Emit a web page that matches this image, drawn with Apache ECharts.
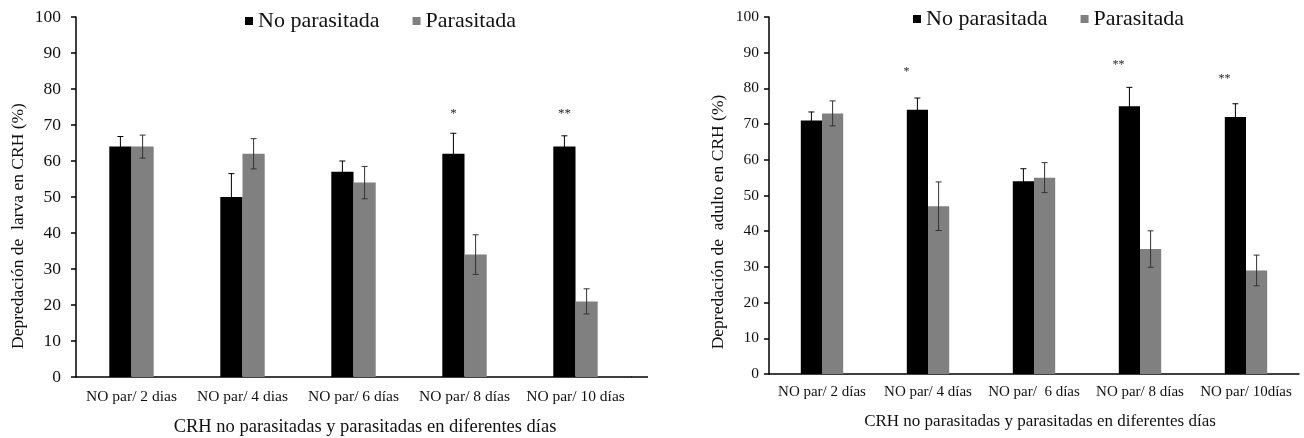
<!DOCTYPE html>
<html>
<head>
<meta charset="utf-8">
<script src="https://cdn.jsdelivr.net/npm/echarts@6/dist/echarts.min.js"></script>
<style>
html,body{margin:0;padding:0;background:#fff;}
#chart{width:1304px;height:438px;}
</style>
</head>
<body>
<div id="chart"></div>
<script>
// ---------- DATA ----------
const categoriesLarva = ['NO par/ 2 dias', 'NO par/ 4 dias', 'NO par/ 6 días', 'NO par/ 8 días', 'NO par/ 10 días'];
const categoriesAdulto = ['NO par/ 2 días', 'NO par/ 4 días', 'NO par/  6 días', 'NO par/ 8 días', 'NO par/ 10días'];
const seriesNames = ['No parasitada', 'Parasitada'];

const larvaNoPar = [64, 50, 57, 62, 64];
const larvaNoParErr = [2.8, 6.5, 3.0, 5.7, 3.0];
const larvaPar = [64, 62, 54, 34, 21];
const larvaParErr = [3.2, 4.2, 4.5, 5.5, 3.5];
const larvaStars = ['', '', '', '*', '**'];
const larvaStarLevel = [0, 0, 0, 73.3, 73.3];

const adultoNoPar = [71, 74, 54, 75, 72];
const adultoNoParErr = [2.4, 3.3, 3.5, 5.3, 3.7];
const adultoPar = [73, 47, 55, 35, 29];
const adultoParErr = [3.5, 6.8, 4.2, 5.1, 4.3];
const adultoStars = ['', '*', '', '**', '**'];
const adultoStarLevel = [0, 84.6, 0, 86.7, 82.6];

const yTicks = [0, 10, 20, 30, 40, 50, 60, 70, 80, 90, 100];

const yNameLarva = 'Depredación de  larva en CRH (%)';
const yNameAdulto = 'Depredación de  adulto en CRH (%)';
const xName = 'CRH no parasitadas y parasitadas en diferentes días';

// ---------- CHART ----------
const FONT = "'Liberation Serif', 'Times New Roman', serif";
const BLACK = '#000000';
const GREY = '#808080';

function errData(vals, errs) { return vals.map((v, i) => [i, v, errs[i]]); }
function starData(lv, st) { return lv.map((v, i) => [i, v, st[i]]).filter(d => d[2] !== ''); }

function errorSeries(name, gridIdx, vals, errs, shift, color) {
  return {
    type: 'custom', name: name, xAxisIndex: gridIdx, yAxisIndex: gridIdx, z: 5,
    data: errData(vals, errs),
    encode: { x: 0, y: 1 },
    renderItem: function (params, api) {
      const i = api.value(0), v = api.value(1), e = api.value(2);
      const band = api.size([1, 0])[0];
      const top = api.coord([i, v + e]);
      const bot = api.coord([i, v - e]);
      const x = top[0] + shift * band;
      const cap = 3;
      const st = { stroke: color, lineWidth: 1 };
      return { type: 'group', children: [
        { type: 'line', shape: { x1: x, y1: top[1], x2: x, y2: bot[1] }, style: st },
        { type: 'line', shape: { x1: x - cap, y1: top[1], x2: x + cap, y2: top[1] }, style: st },
        { type: 'line', shape: { x1: x - cap, y1: bot[1], x2: x + cap, y2: bot[1] }, style: st }
      ]};
    }
  };
}

function starSeries(gridIdx, lv, st, shift, dx, size) {
  return {
    type: 'custom', xAxisIndex: gridIdx, yAxisIndex: gridIdx, z: 6, silent: true,
    data: starData(lv, st),
    encode: { x: 0, y: 1 },
    renderItem: function (params, api) {
      const p = api.coord([api.value(0), api.value(1)]);
      const band = api.size([1, 0])[0];
      return { type: 'text', style: { x: p[0] + shift * band + dx, y: p[1], text: st[api.value(0)],
        fill: '#222', font: size + 'px ' + FONT, align: 'center', verticalAlign: 'middle' } };
    }
  };
}

function yAxis(gridIdx, fs, margin) {
  return {
    type: 'value', gridIndex: gridIdx, min: 0, max: 100, interval: 10,
    axisLine: { show: true, lineStyle: { color: BLACK, width: 1.5 } },
    axisTick: { show: true, length: 5, lineStyle: { color: BLACK, width: 1.5 } },
    splitLine: { show: false },
    axisLabel: { color: '#111', fontFamily: FONT, fontSize: fs, margin: margin,
      formatter: v => String(yTicks[yTicks.indexOf(v)]) }
  };
}
function xAxis(gridIdx, cats, fs, margin) {
  return {
    type: 'category', gridIndex: gridIdx, data: cats,
    axisLine: { show: true, lineStyle: { color: BLACK, width: 1.5 } },
    axisTick: { show: false },
    axisLabel: { color: '#111', fontFamily: FONT, fontSize: fs, margin: margin, interval: 0 }
  };
}

const chart = echarts.init(document.getElementById('chart'), null, { renderer: 'canvas' });
const option = {
  animation: false,
  backgroundColor: '#ffffff',
  grid: [
    { left: 76, right: 1304 - 631, top: 17, bottom: 438 - 377 },
    { left: 769, right: 5, top: 17, bottom: 438 - 374 }
  ],
  legend: [
    { left: 240, top: 5, data: seriesNames, itemWidth: 8, itemHeight: 8, itemGap: 33, icon: 'rect',
      textStyle: { fontFamily: FONT, fontSize: 22, color: '#111' } },
    { left: 908, top: 3, data: seriesNames, itemWidth: 8, itemHeight: 8, itemGap: 33, icon: 'rect',
      textStyle: { fontFamily: FONT, fontSize: 22, color: '#111' } }
  ],
  xAxis: [ xAxis(0, categoriesLarva, 15.5, 12), xAxis(1, categoriesAdulto, 15, 11) ],
  yAxis: [ yAxis(0, 17.5, 15), yAxis(1, 15.5, 10) ],
  series: [
    { type: 'bar', name: seriesNames[0], xAxisIndex: 0, yAxisIndex: 0, data: larvaNoPar,
      barWidth: '20%', barGap: '0%', itemStyle: { color: BLACK } },
    { type: 'bar', name: seriesNames[1], xAxisIndex: 0, yAxisIndex: 0, data: larvaPar,
      barWidth: '20%', barGap: '0%', itemStyle: { color: GREY } },
    { type: 'bar', name: seriesNames[0], xAxisIndex: 1, yAxisIndex: 1, data: adultoNoPar,
      barWidth: '20%', barGap: '0%', itemStyle: { color: BLACK } },
    { type: 'bar', name: seriesNames[1], xAxisIndex: 1, yAxisIndex: 1, data: adultoPar,
      barWidth: '20%', barGap: '0%', itemStyle: { color: GREY } },
    errorSeries(seriesNames[0], 0, larvaNoPar, larvaNoParErr, -0.1, BLACK),
    errorSeries(seriesNames[1], 0, larvaPar, larvaParErr, 0.1, '#333333'),
    errorSeries(seriesNames[0], 1, adultoNoPar, adultoNoParErr, -0.1, BLACK),
    errorSeries(seriesNames[1], 1, adultoPar, adultoParErr, 0.1, '#333333'),
    starSeries(0, larvaStarLevel, larvaStars, -0.1, 0, 13),
    starSeries(1, adultoStarLevel, adultoStars, -0.1, -11, 12)
  ],
  graphic: [
    { type: 'line', shape: { x1: 631, y1: 377, x2: 648, y2: 377 }, style: { stroke: BLACK, lineWidth: 1.5 } },
    { type: 'text', x: 18, y: 226, rotation: Math.PI / 2,
      style: { text: yNameLarva, font: '17.5px ' + FONT, fill: '#111', align: 'center', verticalAlign: 'middle' } },
    { type: 'text', x: 718, y: 222, rotation: Math.PI / 2,
      style: { text: yNameAdulto, font: '17.5px ' + FONT, fill: '#111', align: 'center', verticalAlign: 'middle' } },
    { type: 'text', x: 365, y: 427,
      style: { text: xName, font: '18.5px ' + FONT, fill: '#111', align: 'center', verticalAlign: 'middle' } },
    { type: 'text', x: 1040, y: 422,
      style: { text: xName, font: '17px ' + FONT, fill: '#111', align: 'center', verticalAlign: 'middle' } }
  ]
};
chart.setOption(option);
</script>
</body>
</html>
